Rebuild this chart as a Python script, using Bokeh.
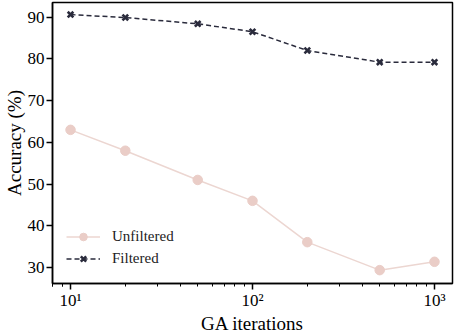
from bokeh.plotting import figure
from bokeh.models import FixedTicker, CustomJSTickFormatter, Range1d, Legend, LegendItem
from bokeh.embed import file_html
from bokeh.resources import INLINE

iterations = [10, 20, 50, 100, 200, 500, 1000]
unfiltered = [63.0, 58.0, 51.0, 46.0, 36.1, 29.4, 31.4]
filtered = [90.6, 89.9, 88.4, 86.5, 82.0, 79.2, 79.2]
y_ticks = [30, 40, 50, 60, 70, 80, 90]
x_major = [10, 100, 1000]
series_names = ["Unfiltered", "Filtered"]
x_label = "GA iterations"
y_label = "Accuracy (%)"

FONT = "'Liberation Serif', 'DejaVu Serif', serif"
PINK = "#eacdc7"
PINK_LINE = "#ecd6d1"
NAVY = "#2a2b3c"

p = figure(width=454, height=336, x_axis_type="log",
           x_range=Range1d(7.96, 1256), y_range=Range1d(26.2, 93.5),
           output_backend="svg", toolbar_location=None)
p.min_border_left = 0
p.min_border_right = 2
p.min_border_top = 2
p.min_border_bottom = 0

p.xgrid.visible = False
p.ygrid.visible = False
p.outline_line_color = "black"
p.outline_line_width = 1.5
p.outline_line_alpha = 1.0

l1 = p.line(iterations, unfiltered, line_color=PINK_LINE, line_width=1.5)
s1 = p.scatter(iterations, unfiltered, marker="circle", size=9.5,
               fill_color=PINK, line_color=PINK)
l2 = p.line(iterations, filtered, line_color=NAVY, line_width=1.5, line_dash="5 3")
s2 = p.scatter(iterations, filtered, marker="x", size=8,
               line_color=NAVY, line_width=2.6)

minor = [m * d for d in [1, 10, 100] for m in range(2, 10)] + [8, 9]
p.xaxis.ticker = FixedTicker(ticks=x_major, minor_ticks=minor)
p.xaxis.formatter = CustomJSTickFormatter(code="""
const sup = {'0':'\u2070','1':'\u00b9','2':'\u00b2','3':'\u00b3'};
const e = Math.round(Math.log10(tick));
return '10' + String(e).split('').map(c => sup[c]).join('');
""")
p.yaxis.ticker = FixedTicker(ticks=y_ticks, minor_ticks=[])

for ax in (p.xaxis[0], p.yaxis[0]):
    ax.axis_line_color = "black"
    ax.axis_line_width = 1.5
    ax.major_tick_line_color = "black"
    ax.major_tick_line_width = 1.5
    ax.minor_tick_line_color = "black"
    ax.minor_tick_line_width = 1.0
    ax.major_tick_in = 0
    ax.major_tick_out = 6
    ax.minor_tick_in = 0
    ax.minor_tick_out = 3
    ax.major_label_text_font = FONT
    ax.major_label_text_font_size = "17px"
    ax.major_label_text_color = "black"
    ax.axis_label_text_font = FONT
    ax.axis_label_text_font_size = "19px"
    ax.axis_label_text_font_style = "normal"
    ax.axis_label_text_color = "black"
    ax.major_label_standoff = 2
    ax.axis_label_standoff = 0

p.xaxis.major_label_standoff = 1
p.xaxis.axis_label_standoff = 0

p.xaxis.axis_label = x_label
p.yaxis.axis_label = y_label

legend = Legend(items=[LegendItem(label=series_names[0], renderers=[l1, s1]),
                       LegendItem(label=series_names[1], renderers=[l2, s2])],
                location=(9, 10))
legend.label_text_font = FONT
legend.label_text_font_size = "15px"
legend.label_text_color = "#222222"
legend.glyph_width = 34
legend.glyph_height = 19
legend.label_height = 19
legend.label_standoff = 12
legend.spacing = 3
legend.padding = 5
legend.border_line_alpha = 0
legend.background_fill_alpha = 0
p.add_layout(legend)

open("out.html", "w").write(file_html(p, INLINE))
